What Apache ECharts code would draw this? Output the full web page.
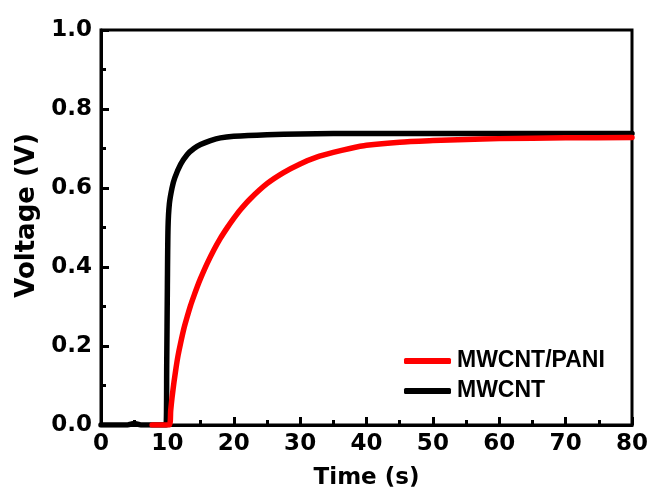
<!DOCTYPE html>
<html>
<head>
<meta charset="utf-8">
<script src="https://cdn.jsdelivr.net/npm/echarts@6/dist/echarts.min.js"></script>
<style>html,body{margin:0;padding:0;background:#fff}#c{width:651px;height:493px}</style>
</head>
<body>
<div id="c"></div>
<script>
// Data
const seriesNames = ['MWCNT/PANI', 'MWCNT'];
const mwcntT = [0, 4, 4.5, 5, 5.5, 6, 9.8, 9.9, 10.0, 10.1, 10.3, 10.7, 11.1, 12, 13, 14, 15, 16.5, 18, 20, 25, 30, 40, 80];
const mwcntV = [0, 0, 0.002, 0.004, 0.002, 0, 0, 0.15, 0.35, 0.5, 0.56, 0.6, 0.625, 0.66, 0.685, 0.7, 0.71, 0.72, 0.727, 0.731, 0.735, 0.737, 0.738, 0.738];
const paniT = [7.7, 10.3, 10.5, 10.7, 11.0, 11.3, 11.6, 12.0, 12.5, 13.0, 13.5, 14.0, 14.5, 15, 16, 17, 18, 19, 20, 21, 22.5, 25, 27.5, 30, 32.5, 35, 37.5, 40, 45, 50, 55, 60, 70, 80];
const paniV = [0, 0, 0.037, 0.069, 0.109, 0.144, 0.175, 0.208, 0.245, 0.275, 0.303, 0.327, 0.35, 0.371, 0.409, 0.443, 0.473, 0.499, 0.523, 0.545, 0.573, 0.611, 0.639, 0.661, 0.678, 0.69, 0.70, 0.708, 0.716, 0.72, 0.723, 0.725, 0.727, 0.728];
const xTicks = {min: 0, max: 80, interval: 10};
const yTicks = {min: 0, max: 1, interval: 0.2};

const zip = (a, b) => a.map((v, i) => [v, b[i]]);
const tickFont = {fontFamily: 'DejaVu Sans', fontWeight: 'bold', fontSize: 23, color: '#000'};

const chart = echarts.init(document.getElementById('c'), null, {renderer: 'canvas'});
chart.setOption({
  animation: false,
  backgroundColor: '#fff',
  grid: {left: 101, right: 19, top: 30, bottom: 68, containLabel: false, outerBoundsMode: 'none',
         show: true, borderColor: '#000', borderWidth: 3, backgroundColor: 'transparent'},
  legend: {
    data: seriesNames,
    orient: 'vertical',
    left: 399, top: 344,
    itemWidth: 47, itemHeight: 6, itemGap: 6,
    icon: 'roundRect',
    textStyle: {fontFamily: 'Liberation Sans', fontWeight: 'bold', fontSize: 23, color: '#000', lineHeight: 24, padding: [0, 0, 0, 1]}
  },
  xAxis: {
    type: 'value', min: xTicks.min, max: xTicks.max, interval: xTicks.interval,
    name: 'Time (s)', nameLocation: 'middle', nameGap: 42,
    nameTextStyle: tickFont,
    axisLine: {show: true, lineStyle: {color: '#000', width: 3}},
    axisTick: {show: true, inside: true, length: 8, lineStyle: {color: '#000', width: 3}},
    minorTick: {show: true, splitNumber: 2, length: 5, lineStyle: {color: '#000', width: 3}},
    axisLabel: Object.assign({margin: 8}, tickFont),
    splitLine: {show: false}
  },
  yAxis: {
    type: 'value', min: yTicks.min, max: yTicks.max, interval: yTicks.interval,
    name: 'Voltage (V)', nameLocation: 'middle', nameGap: 60,
    nameTextStyle: Object.assign({}, tickFont, {fontSize: 26, padding: [0, 0, 0, 24]}),
    axisLine: {show: true, lineStyle: {color: '#000', width: 3}},
    axisTick: {show: true, inside: true, length: 8, lineStyle: {color: '#000', width: 3}},
    minorTick: {show: true, splitNumber: 2, length: 5, lineStyle: {color: '#000', width: 3}},
    axisLabel: Object.assign({margin: 9, formatter: v => v.toFixed(1)}, tickFont),
    splitLine: {show: false}
  },
  series: [
    {name: seriesNames[1], type: 'line', data: zip(mwcntT, mwcntV), showSymbol: false, smooth: 0.25,
     lineStyle: {color: '#000', width: 5.5, cap: 'round', join: 'round'}, itemStyle: {color: '#000'}, z: 2},
    {name: seriesNames[0], type: 'line', data: zip(paniT, paniV), showSymbol: false, smooth: 0.25,
     lineStyle: {color: '#ff0000', width: 5.5, cap: 'round', join: 'round'}, itemStyle: {color: '#ff0000'}, z: 3}
  ]
});
</script>
</body>
</html>
